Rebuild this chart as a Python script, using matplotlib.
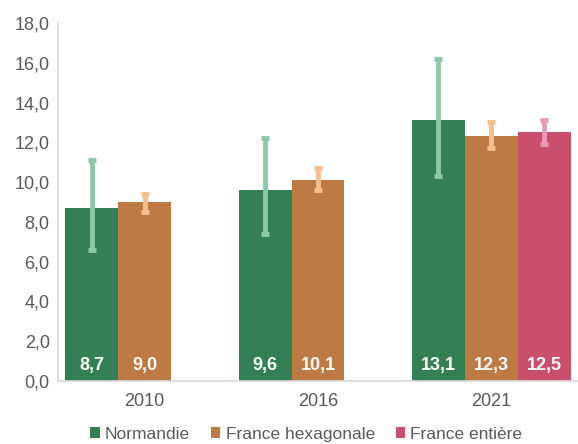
import matplotlib.pyplot as plt
import numpy as np

plt.rcParams['font.family'] = ['Liberation Sans', 'DejaVu Sans']

years = ['2010', '2016', '2021']
series = ['Normandie', 'France hexagonale', 'France entière']
values = [
    [8.7, 9.6, 13.1],
    [9.0, 10.1, 12.3],
    [None, None, 12.5],
]
low = [
    [6.6, 7.4, 10.3],
    [8.5, 9.6, 11.7],
    [None, None, 11.9],
]
high = [
    [11.1, 12.2, 16.2],
    [9.4, 10.7, 13.0],
    [None, None, 13.1],
]
colors = ['#357f55', '#bd7a45', '#c94f6d']
err_colors = ['#8cc9a6', '#f7be8e', '#e69bb8']

fig = plt.figure(figsize=(5.78, 4.44), dpi=100)
ax = fig.add_axes([0.1003, 0.1419, 0.8997, 0.8063])

x = np.arange(len(years))
w = 0.305
for i, name in enumerate(series):
    xs, vs, lo, hi = [], [], [], []
    for j in range(len(years)):
        if values[i][j] is None:
            continue
        xs.append(x[j] + (i - 1) * w)
        vs.append(values[i][j])
        lo.append(values[i][j] - low[i][j])
        hi.append(high[i][j] - values[i][j])
    ax.bar(xs, vs, width=w, color=colors[i], label=name, zorder=2)
    ax.errorbar(xs, vs, yerr=[lo, hi], fmt='none', ecolor=err_colors[i],
                elinewidth=3.5, capsize=3, capthick=3.5, zorder=3)
    for xx, v in zip(xs, vs):
        ax.text(xx, 0.8, f"{v:.1f}".replace('.', ','), ha='center', va='center',
                color='white', fontsize=13, fontweight='bold', zorder=4)

ax.set_xlim(-0.5, 2.5)
ax.set_ylim(0, 18)
ax.set_yticks(np.arange(0, 19, 2))
ax.set_yticklabels([f"{t:.1f}".replace('.', ',') for t in np.arange(0, 19, 2)])
ax.set_xticks(x)
ax.set_xticklabels(years)
ax.tick_params(axis='both', length=0, labelsize=13, colors='#595959')
ax.tick_params(axis='x', pad=9)
ax.tick_params(axis='y', pad=6)
for s in ['top', 'right']:
    ax.spines[s].set_visible(False)
ax.spines['left'].set_color('#d9d9d9')
ax.spines['bottom'].set_color('#d9d9d9')
ax.spines['left'].set_linewidth(1.2)
ax.spines['bottom'].set_linewidth(1.2)

leg = fig.legend(loc='lower center', bbox_to_anchor=(0.53, -0.03), ncol=3, frameon=False,
                 fontsize=12.5, handlelength=0.55, handleheight=0.55, handletextpad=0.3,
                 columnspacing=1.2, labelcolor='#595959')

fig.savefig('out.png', dpi=100)
